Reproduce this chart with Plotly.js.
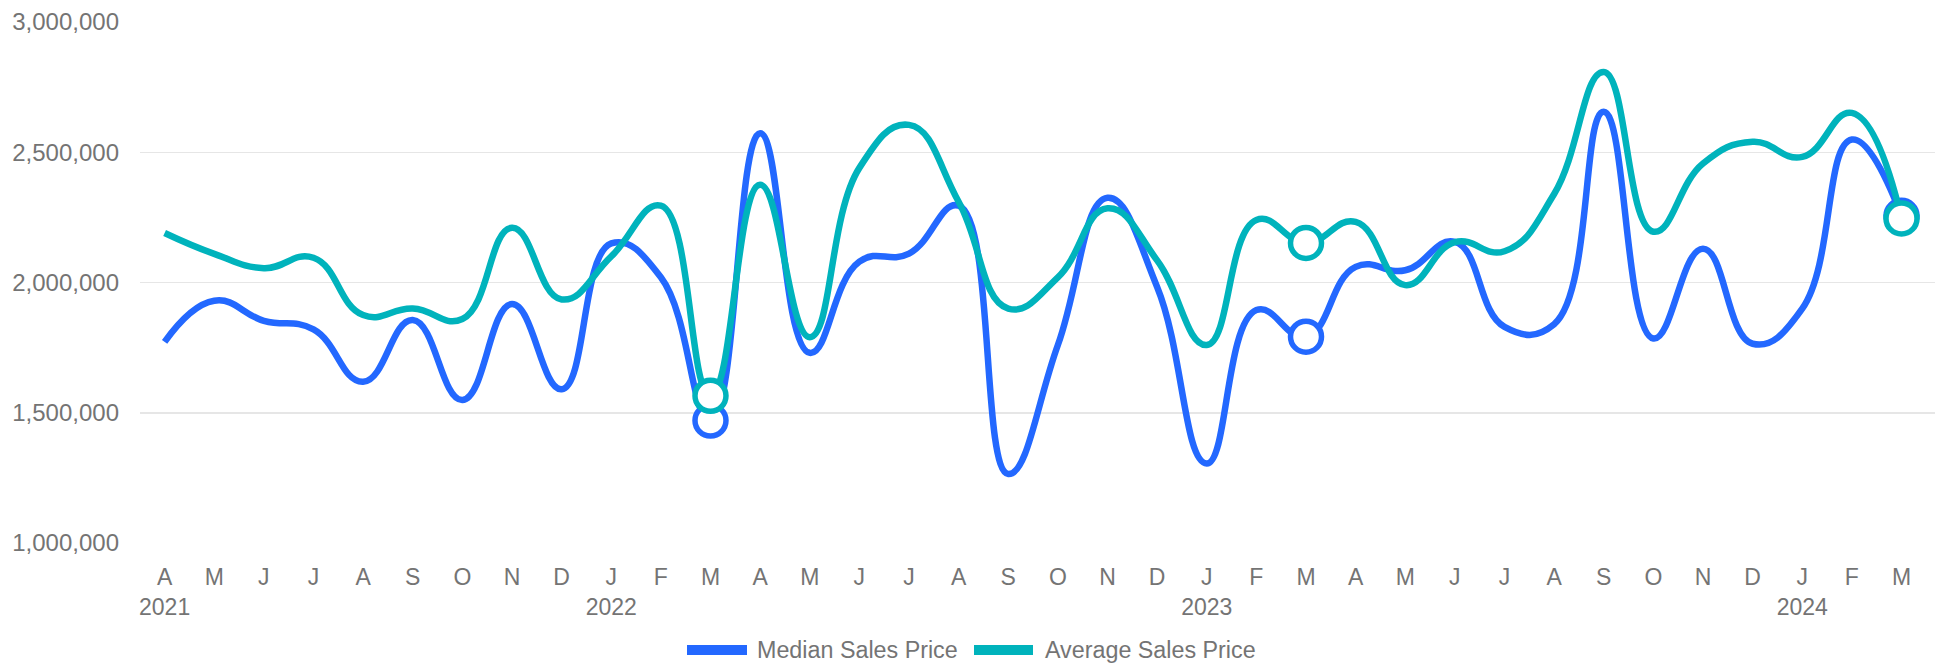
<!DOCTYPE html>
<html>
<head>
<meta charset="utf-8">
<script src="https://cdn.plot.ly/plotly-3.0.1.min.js"></script>
<style>
  html, body { margin: 0; padding: 0; background: #ffffff; }
  #chart { width: 1935px; height: 665px; }
</style>
</head>
<body>
<div id="chart"></div>
<script>
// Months (Apr 2021 - Mar 2024)
const months = [
  '2021-04','2021-05','2021-06','2021-07','2021-08','2021-09','2021-10','2021-11','2021-12',
  '2022-01','2022-02','2022-03','2022-04','2022-05','2022-06','2022-07','2022-08','2022-09','2022-10','2022-11','2022-12',
  '2023-01','2023-02','2023-03','2023-04','2023-05','2023-06','2023-07','2023-08','2023-09','2023-10','2023-11','2023-12',
  '2024-01','2024-02','2024-03'
];

const medianSalesPrice = [
  1772000, 1930000, 1853000, 1820000, 1619000, 1856000, 1549000, 1917000, 1590000,
  2150000, 2020000, 1470000, 2573000, 1730000, 2080000, 2111000, 2295000, 1265000, 1760000, 2325000, 1983000,
  1305000, 1894000, 1792000, 2060000, 2047000, 2156000, 1830000, 1840000, 2655000, 1785000, 2130000, 1765000,
  1900000, 2549000, 2256000
];

const averageSalesPrice = [
  2190000, 2110000, 2055000, 2095000, 1875000, 1900000, 1860000, 2210000, 1935000,
  2100000, 2295000, 1565000, 2375000, 1790000, 2440000, 2605000, 2310000, 1900000, 2020000, 2285000, 2085000,
  1760000, 2240000, 2152000, 2233000, 1990000, 2155000, 2120000, 2340000, 2808000, 2195000, 2457000, 2540000,
  2482000, 2651000, 2246000
];

// Months that carry a highlighted (hollow) marker
const markedMonths = ['2022-03', '2023-03', '2024-03'];

const monthLetters = ['J','F','M','A','M','J','J','A','S','O','N','D'];
const seriesNames = ['Median Sales Price', 'Average Sales Price'];
const yTickVals = [1000000, 1500000, 2000000, 2500000, 3000000];

// ---- build tick labels from months ----
const tickText = months.map((m, i) => {
  const [y, mo] = m.split('-').map(Number);
  const letter = monthLetters[mo - 1];
  return (i === 0 || mo === 1) ? letter + '<br>' + y : letter;
});

const BLUE = '#2368ff';
const TEAL = '#00b3bc';
const TEXT = '#747474';
const FONT = 'Liberation Sans, Arial, Helvetica, sans-serif';

function lineTrace(values, name, color) {
  return {
    x: months, y: values, name: name, type: 'scatter', mode: 'lines',
    line: { color: color, width: 6.5, shape: 'spline', smoothing: 1.3 },
    hoverinfo: 'skip', showlegend: false
  };
}

function markerTrace(values, name, color) {
  const idx = months.map((m, i) => i).filter(i => markedMonths.includes(months[i]));
  return {
    x: idx.map(i => months[i]), y: idx.map(i => values[i]), name: name,
    type: 'scatter', mode: 'markers',
    marker: { symbol: 'circle', size: 31, color: '#ffffff', opacity: 1,
              line: { color: color, width: 5.5 } },
    hoverinfo: 'skip', showlegend: false, cliponaxis: false
  };
}

const data = [
  lineTrace(medianSalesPrice, seriesNames[0], BLUE),
  markerTrace(medianSalesPrice, seriesNames[0], BLUE),
  lineTrace(averageSalesPrice, seriesNames[1], TEAL),
  markerTrace(averageSalesPrice, seriesNames[1], TEAL)
];

// plot area geometry (pixels) for the custom legend
const L = 140, T = 22, W = 1795, H = 521;
const px = x => (x - L) / W;
const py = y => (T + H - y) / H;

const legendItems = [
  { name: seriesNames[0], color: BLUE, x0: 687, x1: 747, tx: 755 },
  { name: seriesNames[1], color: TEAL, x0: 974, x1: 1033, tx: 1043 }
];

const shapes = legendItems.map(it => ({
  type: 'rect', xref: 'paper', yref: 'paper',
  x0: px(it.x0), x1: px(it.x1), y0: py(655), y1: py(645),
  fillcolor: it.color, line: { width: 0 }
}));

const annotations = legendItems.map(it => ({
  xref: 'paper', yref: 'paper', x: px(it.tx), y: py(650),
  xanchor: 'left', yanchor: 'middle', showarrow: false,
  text: it.name, font: { family: FONT, size: 23.3, color: TEXT }
}));

const layout = {
  width: 1935, height: 665,
  margin: { l: L, r: 0, t: T, b: 665 - T - H },
  paper_bgcolor: '#ffffff', plot_bgcolor: '#ffffff',
  font: { family: FONT, size: 23, color: TEXT },
  showlegend: false,
  xaxis: {
    type: 'category', range: [-0.496, 35.675],
    tickmode: 'array', tickvals: months, ticktext: tickText,
    showgrid: false, zeroline: false, showline: false, ticks: '',
    tickangle: 0, ticklabelstandoff: 18,
    tickfont: { family: FONT, size: 23, color: TEXT }
  },
  yaxis: {
    range: [1000000, 3000000], tickmode: 'array', tickvals: yTickVals,
    tickformat: ',d', showgrid: true, gridcolor: '#e6e6e6', gridwidth: 1.5,
    zeroline: false, showline: false, ticks: '', ticklabelstandoff: 20,
    tickfont: { family: FONT, size: 24, color: TEXT }
  },
  shapes: shapes,
  annotations: annotations
};

Plotly.newPlot('chart', data, layout, { displayModeBar: false, staticPlot: true });
</script>
</body>
</html>
